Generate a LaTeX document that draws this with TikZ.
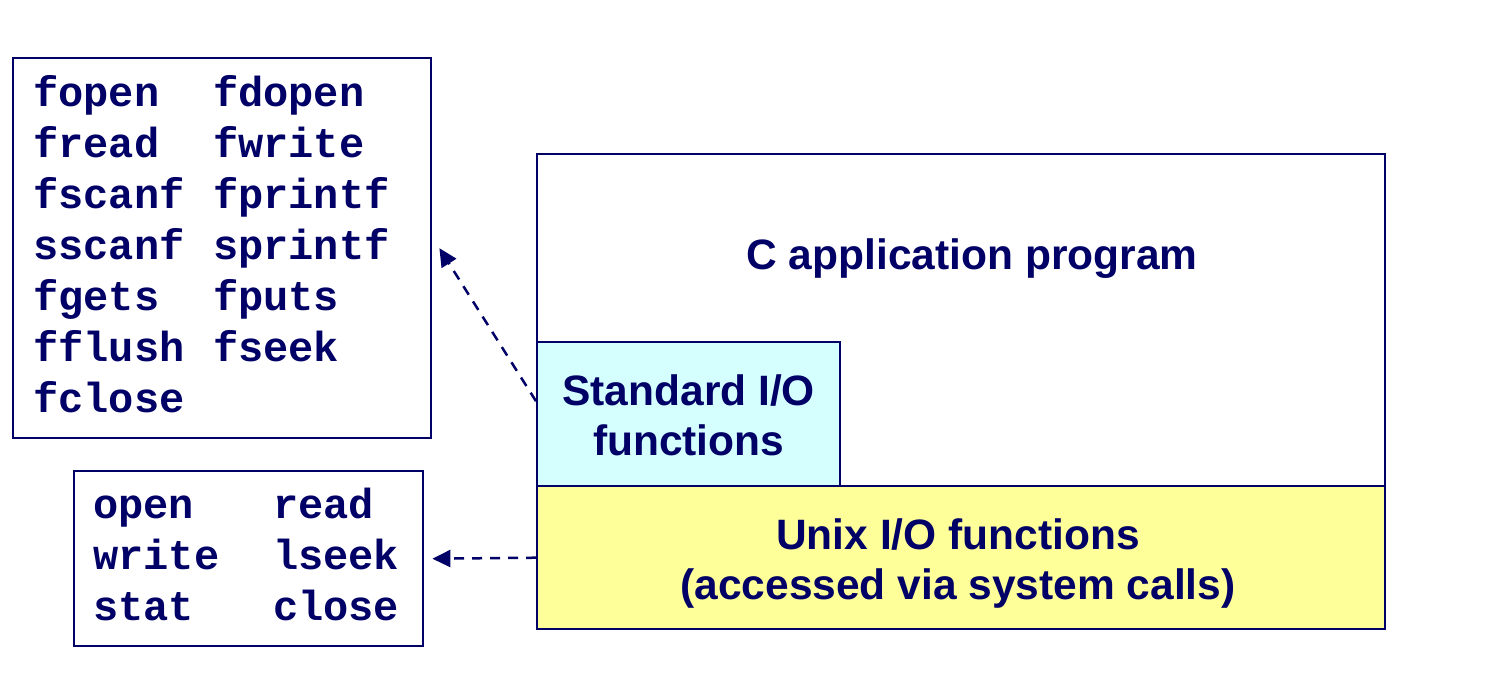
\documentclass[tikz,border=0pt]{standalone}
\usepackage{fontspec}
\setmainfont{Liberation Sans}
\setmonofont{Liberation Mono}
\usetikzlibrary{arrows.meta,positioning}
\definecolor{ionavy}{HTML}{000066}
\definecolor{stdcyan}{HTML}{D5FFFF}
\definecolor{unixyellow}{HTML}{FFFF99}

\begin{document}
\begin{tikzpicture}[x=1pt,y=-1pt,
    box/.style={draw=ionavy,line width=2.4pt,inner sep=0pt,anchor=north west},
    label/.style={text=ionavy,font=\fontsize{42.5}{50}\selectfont\bfseries,align=center},
    code/.style={text=ionavy,font=\fontsize{42}{51}\selectfont\ttfamily\bfseries,anchor=base west,inner sep=0pt},
    call/.style={draw=ionavy,line width=2.5pt,dash pattern=on 10pt off 8pt,-{Triangle[length=18pt,width=17pt]}}]
  \useasboundingbox (0,0) rectangle (1504,694);

  % layers
  \node[box,minimum width=848pt,minimum height=332pt] (app) at (536,153) {};
  \node[box,fill=stdcyan,minimum width=303pt,minimum height=144pt] (std) at (536,341) {};
  \node[box,fill=unixyellow,minimum width=848pt,minimum height=143pt] (unix) at (536,485) {};
  \node[label] (applbl) at (972,259) {C application program};
  \node[label] (stdlbl) at ([yshift=-1pt]std.center) {Standard I/O\\functions};
  \node[label] (unixlbl) at (958,564) {Unix I/O functions\\(accessed via system calls)};

  % function lists
  \node[box,minimum width=418pt,minimum height=380pt] (stdbox) at (12,57) {};
  \node[code] (stdcalls) at (33,106) {\begin{tabular}[t]{@{}p{180pt}@{}l@{}}
    fopen & fdopen\\ fread & fwrite\\ fscanf & fprintf\\ sscanf & sprintf\\
    fgets & fputs\\ fflush & fseek\\ fclose &
  \end{tabular}};
  \node[box,minimum width=349pt,minimum height=175pt] (unixbox) at (73,470) {};
  \node[code] (unixcalls) at (93,518) {\begin{tabular}[t]{@{}p{180pt}@{}l@{}}
    open & read\\ write & lseek\\ stat & close
  \end{tabular}};

  \draw[call] ([yshift=13pt]std.west) -- ([xshift=7pt]stdbox.east);
  \draw[call] (unix.west) -- ([xshift=8pt]unixbox.east);
\end{tikzpicture}
\end{document}
